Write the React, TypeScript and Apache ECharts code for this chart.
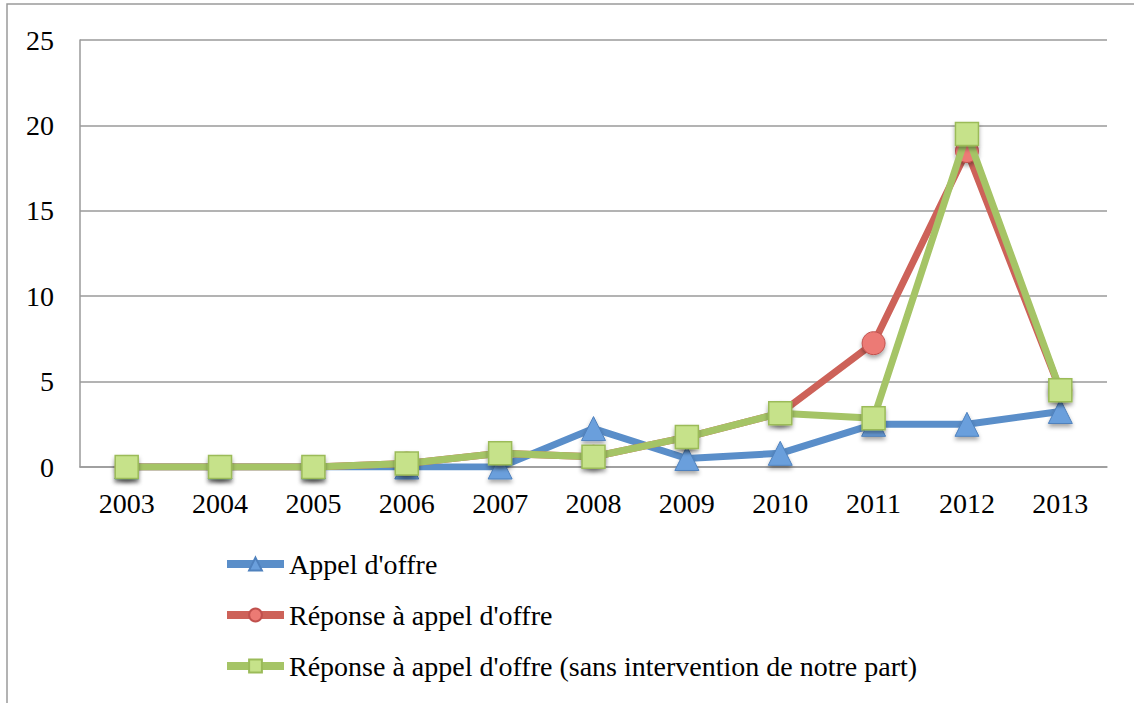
import React, { useEffect, useRef } from "react";
import * as echarts from "echarts";

const years = ["2003", "2004", "2005", "2006", "2007", "2008", "2009", "2010", "2011", "2012", "2013"];
const appelOffre = [0, 0, 0, 0, 0, 2.25, 0.5, 0.8, 2.5, 2.5, 3.25];
const reponse = [0, 0, 0, 0.2, 0.8, 0.6, 1.75, 3.15, 7.25, 18.5, 4.5];
const reponseSans = [0, 0, 0, 0.2, 0.8, 0.6, 1.75, 3.15, 2.85, 19.5, 4.5];
const names = [
  "Appel d'offre",
  "Réponse à appel d'offre",
  "Réponse à appel d'offre (sans intervention de notre part)",
];

const FONT = "Liberation Serif";
const shadow = { shadowColor: "rgba(0,0,0,0.35)", shadowBlur: 4, shadowOffsetY: 3 };

export default function App() {
  const ref = useRef<HTMLDivElement>(null);
  useEffect(() => {
    if (!ref.current) return;
    const chart = echarts.init(ref.current, undefined, { renderer: "svg" });
    chart.setOption({
      animation: false,
      backgroundColor: "#ffffff",
      textStyle: { fontFamily: FONT, color: "#000" },
      grid: { left: 80, right: 27, top: 40, bottom: 236, containLabel: false },
      graphic: [
        {
          type: "rect",
          shape: { x: 7, y: 4, width: 1200, height: 800 },
          style: { fill: "none", stroke: "#9a9a9a", lineWidth: 1.5 },
          silent: true,
          z: -1,
        },
      ],
      legend: {
        orient: "vertical",
        left: 218,
        top: 545,
        padding: 5,
        itemWidth: 57,
        itemHeight: 16,
        itemGap: 23,
        lineStyle: { width: 8 },
        textStyle: { fontFamily: FONT, fontSize: 28, color: "#000" },
        data: names,
      },
      xAxis: {
        type: "category",
        data: years,
        boundaryGap: true,
        axisLine: { show: true, lineStyle: { color: "#9a9a9a", width: 1.5 } },
        axisTick: { show: false },
        axisLabel: { fontFamily: FONT, fontSize: 28, color: "#000", margin: 22 },
      },
      yAxis: {
        type: "value",
        min: 0,
        max: 25,
        interval: 5,
        axisLine: { show: true, lineStyle: { color: "#9a9a9a", width: 1.5 } },
        axisTick: { show: false },
        axisLabel: { fontFamily: FONT, fontSize: 28, color: "#000", margin: 26 },
        splitLine: { lineStyle: { color: "#9a9a9a", width: 1.5 } },
      },
      series: [
        {
          name: names[0],
          type: "line",
          data: appelOffre,
          symbol: "triangle",
          symbolSize: 24,
          lineStyle: { color: "#5a8ec9", width: 7 },
          itemStyle: { color: "#6a9fdc", borderColor: "#4f81bd", borderWidth: 1, ...shadow },
          z: 2,
        },
        {
          name: names[1],
          type: "line",
          data: reponse,
          symbol: "circle",
          symbolSize: 23,
          lineStyle: { color: "#cd6259", width: 7 },
          itemStyle: { color: "#ec7a74", borderColor: "#c0504d", borderWidth: 1, ...shadow },
          z: 3,
        },
        {
          name: names[2],
          type: "line",
          data: reponseSans,
          symbol: "rect",
          symbolSize: 23,
          lineStyle: { color: "#a5c466", width: 7 },
          itemStyle: { color: "#c6e28a", borderColor: "#9bbb59", borderWidth: 1.5, ...shadow },
          z: 4,
        },
      ],
    });
    return () => chart.dispose();
  }, []);
  return (
    <div
      ref={ref}
      style={{ position: "fixed", left: 0, top: 0, width: 1134, height: 703 }}
    />
  );
}
